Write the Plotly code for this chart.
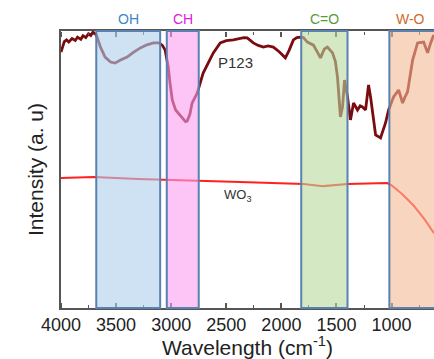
import plotly.graph_objects as go

# FTIR spectra (wavenumber in cm^-1, intensity in arbitrary units)
p123_wn = [4000, 3985, 3970, 3950, 3930, 3900, 3870, 3850, 3820, 3800, 3775, 3750,
           3730, 3710, 3680, 3640, 3600, 3550, 3510,
           3460, 3400, 3340, 3280, 3220, 3160, 3110, 3080, 3055, 3027, 3010, 2990,
           2960, 2930, 2900, 2870, 2855, 2830, 2810, 2764, 2710, 2660, 2618, 2555,
           2500, 2436, 2380, 2340, 2310, 2255, 2210, 2164, 2120, 2073, 2020, 1964,
           1930, 1891, 1860, 1827, 1800, 1764, 1709, 1680, 1645, 1610, 1582, 1536,
           1510, 1491, 1475, 1464, 1445, 1427, 1400, 1373, 1345, 1309, 1285, 1264,
           1236, 1209, 1190, 1173, 1145, 1100, 1055, 1027, 982, 936, 915, 900, 880,
           855, 809, 764, 709, 673, 645, 618]
p123_int = [92.4, 94.5, 96.2, 96.8, 96.0, 97.3, 96.6, 97.8, 97.0, 98.3, 97.6, 99.0,
            98.4, 99.6, 98.6, 94.0, 90.6, 88.8, 88.4,
            89.5, 90.6, 92.4, 93.9, 95.0, 95.7, 95.7, 94.8, 93.1, 87.0, 81.0, 75.1,
            71.5, 70.0, 68.6, 67.3, 67.5, 70.0, 74.0, 77.6, 84.8, 89.0, 92.1, 95.7,
            96.5, 96.8, 97.2, 97.6, 97.5, 95.7, 94.8, 94.2, 94.6, 94.2, 92.5, 90.3,
            93.0, 96.8, 97.6, 97.8, 97.6, 96.0, 94.9, 93.0, 90.3, 93.5, 94.2, 92.1,
            89.0, 83.4, 75.0, 69.0, 72.6, 82.3, 76.2, 67.9, 74.0, 71.5, 73.0, 72.6,
            71.5, 80.5, 76.0, 71.5, 62.5, 61.4, 66.8, 71.5, 76.2, 78.7, 76.0, 74.0,
            76.0, 78.0, 89.5, 95.7, 96.0, 92.1, 95.7, 98.6]

wo3_wn = [4000, 3700, 3300, 2800, 2300, 1800, 1620, 1400, 1200, 1040, 1000, 900, 800, 700, 615]
wo3_int = [46.9, 47.3, 46.6, 45.9, 45.4, 44.8, 44.0, 44.8, 45.0, 45.1, 44.3, 41.0, 37.0, 32.0, 27.0]

# Absorption bands
band_names = ["OH", "CH", "C=O", "W-O"]
band_start = [3680, 3040, 1820, 1020]
band_end = [3100, 2750, 1400, 560]
band_label_x = [3390, 2895, 1610, 830]
band_fill = ["#afcfeb", "#fb9df0", "#b9d99d", "#f4b994"]
band_text = ["#3d85c6", "#e020d8", "#5a9a3a", "#d06a2a"]

x_range = [4000, 615]

fig = go.Figure()
fig.add_trace(go.Scatter(x=p123_wn, y=p123_int, mode="lines",
                         line=dict(color="#7a0c10", width=2.8), showlegend=False))
fig.add_trace(go.Scatter(x=wo3_wn, y=wo3_int, mode="lines",
                         line=dict(color="#ff2020", width=2), showlegend=False))
# invisible copies that attach the tick-only frame axes (bottom and top edges)
for ax in ["x2", "x3"]:
    fig.add_trace(go.Scatter(x=wo3_wn, y=wo3_int, xaxis=ax, yaxis="y", mode="lines",
                             line=dict(width=0), opacity=0, hoverinfo="skip",
                             showlegend=False))

for name, x0, x1, lx, fill, tc in zip(band_names, band_start, band_end, band_label_x,
                                      band_fill, band_text):
    fig.add_shape(type="rect", xref="x", yref="paper", x0=x0, x1=x1, y0=0, y1=1,
                  fillcolor=fill, opacity=0.6, line=dict(width=0), layer="above")
    fig.add_shape(type="rect", xref="x", yref="paper", x0=x0, x1=x1, y0=0, y1=1,
                  fillcolor="rgba(0,0,0,0)", line=dict(color="#5a82b0", width=2),
                  layer="above")
    fig.add_annotation(x=lx, y=1, xref="x", yref="paper", yanchor="bottom", yshift=2,
                       text=name, showarrow=False,
                       font=dict(family="Arial, Liberation Sans", size=14, color=tc))

fig.add_annotation(x=2420, y=88.8, text="P123", showarrow=False,
                   font=dict(family="Arial, Liberation Sans", size=15, color="#333333"))
fig.add_annotation(x=2400, y=40.6, text="WO<sub>3</sub>", showarrow=False,
                   font=dict(family="Arial, Liberation Sans", size=13, color="#333333"))

# tick marks pointing into the plot: an axis on the opposite side draws them "outside"
tick_style = dict(range=x_range, tickmode="linear", tick0=0, dtick=500,
                  showgrid=False, zeroline=False, showline=False, showticklabels=False,
                  ticks="outside", ticklen=5, tickcolor="#555555", tickwidth=1.5,
                  minor=dict(ticks="outside", ticklen=3, dtick=250, tickcolor="#555555",
                             tickwidth=1.2, showgrid=False),
                  overlaying="x", anchor="free")

fig.update_layout(
    template="none",
    width=434, height=359,
    margin=dict(l=61, r=0, t=31, b=51),
    plot_bgcolor="white", paper_bgcolor="white",
    font=dict(family="Arial, Liberation Sans", color="#222222"),
    xaxis=dict(range=x_range, tickmode="linear", tick0=0, dtick=500,
               showgrid=False, zeroline=False,
               showline=True, linecolor="#555555", linewidth=1.5, mirror=True,
               ticks="", tickfont=dict(size=18),
               title=dict(text="Wavelength (cm<sup>-1</sup>)", font=dict(size=21), standoff=2)),
    xaxis2=dict(side="top", position=0, **tick_style),
    xaxis3=dict(side="bottom", position=1, **tick_style),
    yaxis=dict(range=[0, 100], showgrid=False, zeroline=False, showticklabels=False,
               showline=True, linecolor="#555555", linewidth=1.5, ticks="",
               title=dict(text="Intensity (a. u)", font=dict(size=21), standoff=10)),
)

fig.write_html("out.html")
